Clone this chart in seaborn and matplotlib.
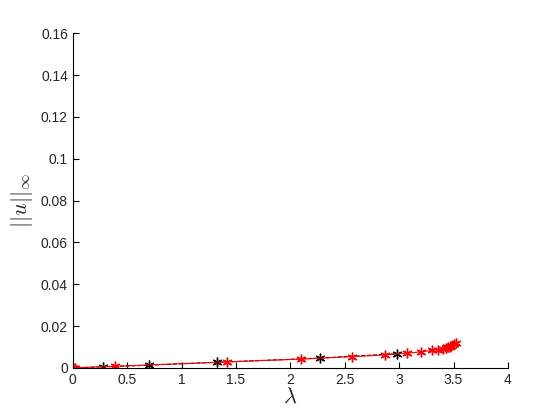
import numpy as np
import matplotlib
matplotlib.use("Agg")
import matplotlib.pyplot as plt
import seaborn as sns

# branch computed with the coarse solver (black) and the fine one (red)
lam_black = [0.0, 0.28, 0.70, 1.33, 2.27, 2.98]
u_black = [0.0, 0.0005, 0.0013, 0.0027, 0.0047, 0.0068]

lam_red = [0.0, 0.02, 0.39, 1.42, 2.10, 2.57, 2.87, 3.07, 3.20, 3.30, 3.36,
           3.40, 3.43, 3.45, 3.47, 3.48, 3.50, 3.52]
u_red = [0.0, 0.0001, 0.0008, 0.0029, 0.0042, 0.0054, 0.0062, 0.0071, 0.0076,
         0.0084, 0.0088, 0.0092, 0.0095, 0.0098, 0.0102, 0.0106, 0.0112, 0.0121]

x_ticks = [0, 0.5, 1, 1.5, 2, 2.5, 3, 3.5, 4]
y_ticks = [0, 0.02, 0.04, 0.06, 0.08, 0.1, 0.12, 0.14, 0.16]

sns.set_style("ticks")
plt.rcParams["font.family"] = ["Liberation Sans", "DejaVu Sans"]
plt.rcParams["mathtext.fontset"] = "cm"

fig = plt.figure(figsize=(5.6, 4.2), dpi=100)
ax = fig.add_axes([0.130, 0.124, 0.777, 0.797])

asterisk = (6, 2, 0)
sns.lineplot(x=lam_black, y=u_black, ax=ax, color="black", lw=0.8,
             linestyle="--", marker=asterisk, markersize=7, mew=1,
             markeredgecolor="black", estimator=None, sort=False)
sns.lineplot(x=lam_red, y=u_red, ax=ax, color="red", lw=0.8,
             marker=asterisk, markersize=7, mew=1,
             markeredgecolor="red", estimator=None, sort=False)

ax.set_xlim(0, 4)
ax.set_ylim(0, 0.16)
ax.set_xticks(x_ticks)
ax.set_xticklabels([f"{t:g}" for t in x_ticks])
ax.set_yticks(y_ticks)
ax.set_yticklabels([f"{t:g}" for t in y_ticks])
ax.tick_params(direction="in", length=4, width=0.8, labelsize=10,
               labelcolor="#262626", color="black")
for s in ["top", "right"]:
    ax.spines[s].set_visible(False)
for s in ["left", "bottom"]:
    ax.spines[s].set_linewidth(0.8)
    ax.spines[s].set_color("black")

ax.set_xlabel(r"$\lambda$", fontsize=16, labelpad=0)
ax.set_ylabel(r"$||u||_\infty$", fontsize=16, labelpad=4)

fig.savefig("out.png", dpi=100)
